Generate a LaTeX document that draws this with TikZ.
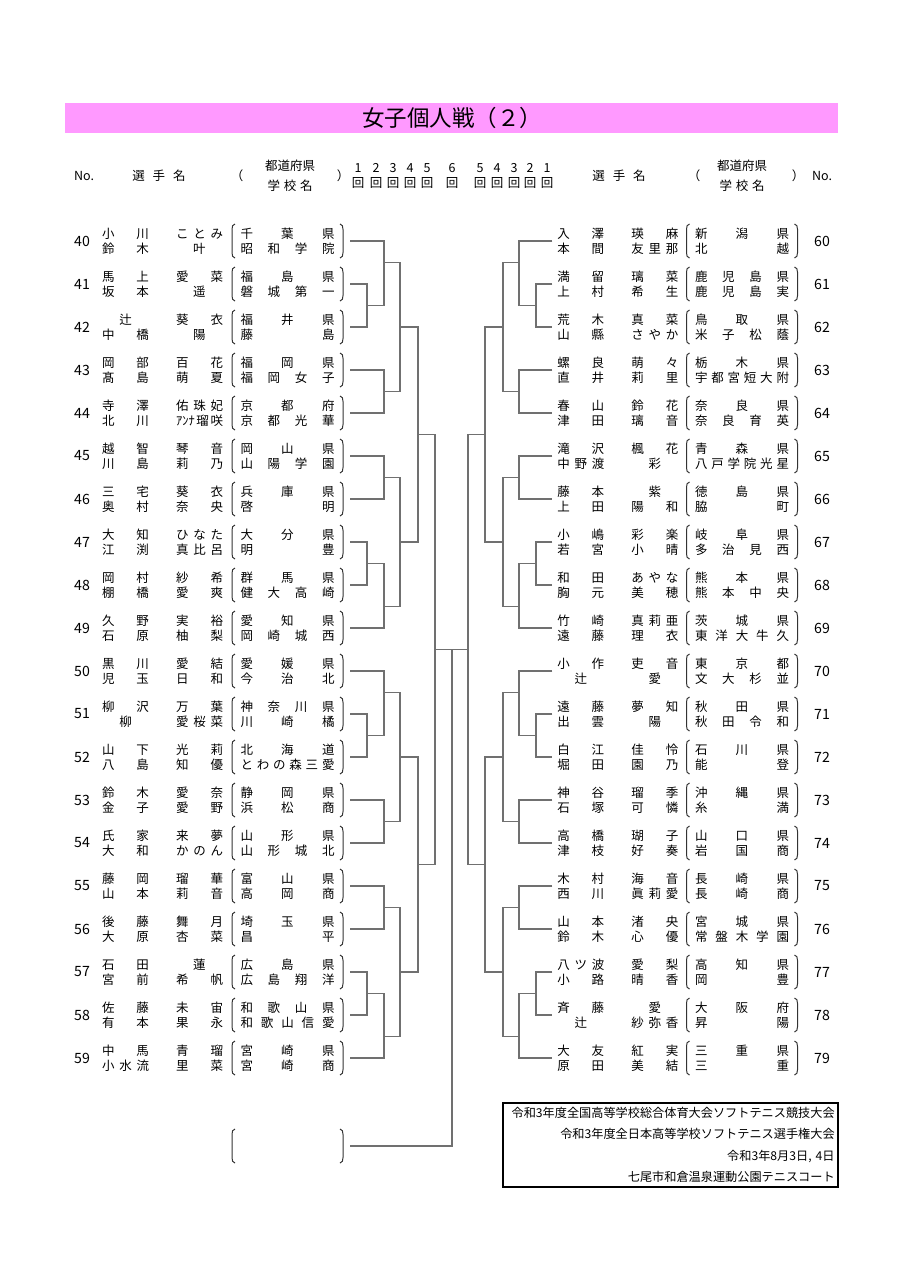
\documentclass[tikz,border=0pt]{standalone}
\usepackage{fontspec}
\setmainfont{Noto Sans CJK JP}
\usetikzlibrary{positioning,calc}
\definecolor{titlepink}{HTML}{FF99FF}
\definecolor{lineg}{HTML}{707070}
% spread the characters of a word over its box
\def\spreadit#1{\expandafter\spreadA#1\relax}
\def\spreadA#1{\ifx\relax#1\else#1\expandafter\spreadB\fi}
\def\spreadB#1{\ifx\relax#1\else\hfill#1\expandafter\spreadB\fi}
\def\ann{\hbox{ｱﾝﾅ}}
\newcommand\nmline[2]{\makebox[28.2pt]{\spreadit#1}\hspace{16.2pt}\makebox[28.2pt]{\spreadit#2}}
\newcommand\scline[1]{\makebox[56.4pt]{\spreadit#1}}
\newcommand\parens[1]{%
  \draw[pr] ($(#1.center)+(-31.5pt,10.2pt)$) to[out=180,in=90] ($(#1.center)+(-33.3pt,7pt)$)
    -- ($(#1.center)+(-33.3pt,-7pt)$) to[out=-90,in=180] ($(#1.center)+(-31.5pt,-10.2pt)$);
  \draw[pr] ($(#1.center)+(31.5pt,10.2pt)$) to[out=0,in=90] ($(#1.center)+(33.3pt,7pt)$)
    -- ($(#1.center)+(33.3pt,-7pt)$) to[out=-90,in=0] ($(#1.center)+(31.5pt,-10.2pt)$);}

\begin{document}
\begin{tikzpicture}[x=0.6pt,y=-0.6pt,
    txt/.style={inner sep=0pt,font=\fontsize{7.5}{9}\selectfont,align=center},
    hd/.style={txt},
    num/.style={inner sep=0pt,font=\fontsize{8.5}{9}\selectfont},
    nm/.style={txt},
    nmR/.style={txt,outer xsep=3pt},
    sch/.style={txt,minimum width=66.6pt,minimum height=20.4pt,outer xsep=4.2pt},
    pr/.style={line width=0.6pt,black!80},
    br/.style={line width=0.7pt,lineg}]
  \useasboundingbox (0,0) rectangle (905,1280);
  % title bar
  \fill[titlepink] (65,103) rectangle (838,133);
  \node[font=\fontsize{13.5}{14}\selectfont] (title) at (452,118) {女子個人戦（２）};
  % header
  \node[hd] (hnoL) at (84,176) {No.};
  \node[hd] (hnameL) at (159,176) {\makebox[32pt]{\spreadit{選手名}}};
  \node[hd] (hopL) at (237,176) {（};
  \node[hd] (hprefL) at (290,166) {都道府県};
  \node[hd] (hschL) at (290,186) {\makebox[27pt]{\spreadit{学校名}}};
  \node[hd] (hclL) at (343,176) {）};
  \node[hd] (hnameR) at (619,176) {\makebox[32pt]{\spreadit{選手名}}};
  \node[hd] (hopR) at (694,176) {（};
  \node[hd] (hprefR) at (742,166) {都道府県};
  \node[hd] (hschR) at (742,186) {\makebox[27pt]{\spreadit{学校名}}};
  \node[hd] (hclR) at (798,176) {）};
  \node[hd] (hnoR) at (822,176) {No.};
  \foreach \r/\x in {1/358,2/376,3/393,4/410,5/427,6/452}{
    \node[hd] (rl\r) at (\x,168) {\r};
    \node[hd] (rb\r) at (\x,183) {回};
  }
  \foreach \r/\x in {5/480,4/497,3/514,2/530,1/547}{
    \node[hd] (rr\r) at (\x,168) {\r};
    \node[hd] (rc\r) at (\x,183) {回};
  }
  % left block
  \foreach \n/\sa/\ga/\sb/\gb/\pa/\pb in {
    40/小川/ことみ/鈴木/叶/千葉県/昭和学院, 41/馬上/愛菜/坂本/遥/福島県/磐城第一,
    42/辻/葵衣/中橋/陽/福井県/藤島, 43/岡部/百花/髙島/萌夏/福岡県/福岡女子,
    44/寺澤/佑珠妃/北川/\ann 瑠咲/京都府/京都光華, 45/越智/琴音/川島/莉乃/岡山県/山陽学園,
    46/三宅/葵衣/奥村/奈央/兵庫県/啓明, 47/大知/ひなた/江渕/真比呂/大分県/明豊,
    48/岡村/紗希/棚橋/愛爽/群馬県/健大高崎, 49/久野/実裕/石原/柚梨/愛知県/岡崎城西,
    50/黒川/愛結/児玉/日和/愛媛県/今治北, 51/柳沢/万葉/柳/愛桜菜/神奈川県/川崎橘,
    52/山下/光莉/八島/知優/北海道/とわの森三愛, 53/鈴木/愛奈/金子/愛野/静岡県/浜松商,
    54/氏家/来夢/大和/かのん/山形県/山形城北, 55/藤岡/瑠華/山本/莉音/富山県/高岡商,
    56/後藤/舞月/大原/杏菜/埼玉県/昌平, 57/石田/蓮/宮前/希帆/広島県/広島翔洋,
    58/佐藤/未宙/有本/果永/和歌山県/和歌山信愛, 59/中馬/青瑠/小水流/里菜/宮崎県/宮崎商}{
    \pgfmathsetmacro\y{241+43*(\n-40)}
    \node[num] (no\n) at (82,\y) {\n};
    \node[nm] (n\n) at (162.5,\y) {\nmline\sa\ga\\\nmline\sb\gb};
    \node[sch] (e\n) at (287.5,\y) {\scline\pa\\\scline\pb};
    \parens{e\n}
  }
  % right block
  \foreach \n/\sa/\ga/\sb/\gb/\pa/\pb in {
    60/入澤/瑛麻/本間/友里那/新潟県/北越, 61/満留/璃菜/上村/希生/鹿児島県/鹿児島実,
    62/荒木/真菜/山縣/さやか/鳥取県/米子松蔭, 63/螺良/萌々/直井/莉里/栃木県/宇都宮短大附,
    64/春山/鈴花/津田/璃音/奈良県/奈良育英, 65/滝沢/楓花/中野渡/彩/青森県/八戸学院光星,
    66/藤本/紫/上田/陽和/徳島県/脇町, 67/小嶋/彩楽/若宮/小晴/岐阜県/多治見西,
    68/和田/あやな/胸元/美穂/熊本県/熊本中央, 69/竹崎/真莉亜/遠藤/理衣/茨城県/東洋大牛久,
    70/小作/吏音/辻/愛/東京都/文大杉並, 71/遠藤/夢知/出雲/陽/秋田県/秋田令和,
    72/白江/佳怜/堀田/園乃/石川県/能登, 73/神谷/瑠季/石塚/可憐/沖縄県/糸満,
    74/高橋/瑚子/津枝/好奏/山口県/岩国商, 75/木村/海音/西川/眞莉愛/長崎県/長崎商,
    76/山本/渚央/鈴木/心優/宮城県/常盤木学園, 77/八ツ波/愛梨/小路/晴香/高知県/岡豊,
    78/斉藤/愛/辻/紗弥香/大阪府/昇陽, 79/大友/紅実/原田/美結/三重県/三重}{
    \pgfmathsetmacro\y{241+43*(\n-60)}
    \node[num] (no\n) at (822,\y) {\n};
    \node[nmR] (n\n) at (617.75,\y) {\nmline\sa\ga\\\nmline\sb\gb};
    \node[sch] (e\n) at (742,\y) {\scline\pa\\\scline\pb};
    \parens{e\n}
  }
  % round points
  \foreach \k/\x/\y in {1/367/305.5,2/384/262.5,3/384/391.5,4/400/327,5/384/477.5,
      6/367/563.5,7/384/606.5,8/400/542,9/418/434.5,10/367/735.5,11/384/692.5,
      12/384/821.5,13/400/757,14/384/907.5,15/367/993.5,16/384/1036.5,17/400/972,
      18/418/864.5,19/435/649.5}{
    \coordinate (L\k) at (\x,\y);
    \coordinate (R\k) at ({903-\x},\y);
  }
  \coordinate (fin) at (452,649.5);
  \foreach \a/\b/\m in {e41/e42/L1,e40/L1/L2,e43/e44/L3,L2/L3/L4,e45/e46/L5,e47/e48/L6,
      L6/e49/L7,L5/L7/L8,L4/L8/L9,e51/e52/L10,e50/L10/L11,e53/e54/L12,L11/L12/L13,
      e55/e56/L14,e57/e58/L15,L15/e59/L16,L14/L16/L17,L13/L17/L18,L9/L18/L19}
    \draw[br] (\a) -| (\m) |- (\b);
  \foreach \a/\b/\m in {n61/n62/R1,n60/R1/R2,n63/n64/R3,R2/R3/R4,n65/n66/R5,n67/n68/R6,
      R6/n69/R7,R5/R7/R8,R4/R8/R9,n71/n72/R10,n70/R10/R11,n73/n74/R12,R11/R12/R13,
      n75/n76/R14,n77/n78/R15,R15/n79/R16,R14/R16/R17,R13/R17/R18,R9/R18/R19}
    \draw[br] (\a) -| (\m) |- (\b);
  \draw[br] (L19) -- (R19);
  % champion box
  \node[sch,minimum height=21.6pt] (bx) at (287.5,1146) {};
  \parens{bx}
  \draw[br] (fin) |- (bx);
  % footer
  \node[draw,line width=0.9pt,inner xsep=2pt,inner ysep=0pt,minimum width=201pt,minimum height=50.4pt,
        text width=197pt,align=right,font=\fontsize{7.3}{12.9}\selectfont] (info) at (670.5,1145)
    {令和3年度全国高等学校総合体育大会ソフトテニス競技大会\\令和3年度全日本高等学校ソフトテニス選手権大会\\令和3年8月3日, 4日\\七尾市和倉温泉運動公園テニスコート};
\end{tikzpicture}
\end{document}
